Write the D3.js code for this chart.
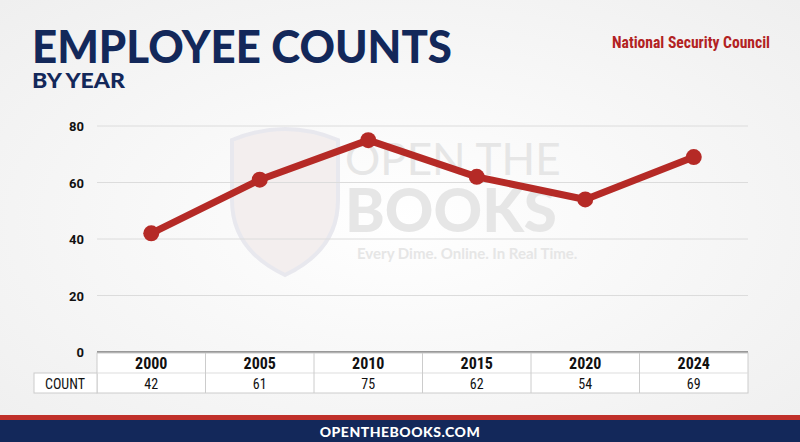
<!DOCTYPE html>
<html><head><meta charset="utf-8">
<script src="https://cdn.jsdelivr.net/npm/d3@7"></script>
<style>body{margin:0;background:#fff}svg{display:block}</style>
</head><body>
<script>
const years = ["2000", "2005", "2010", "2015", "2020", "2024"];
const counts = [42, 61, 75, 62, 54, 69];
const yTicks = [0, 20, 40, 60, 80];

const W = 800, H = 442;
const svg = d3.select("body").append("svg").attr("width", W).attr("height", H);

const bg = svg.append("defs").append("radialGradient").attr("id", "bg")
  .attr("cx", "50%").attr("cy", "50%").attr("r", "75%");
bg.append("stop").attr("offset", "0%").attr("stop-color", "#ffffff");
bg.append("stop").attr("offset", "100%").attr("stop-color", "#eeeeee");
svg.append("rect").attr("width", W).attr("height", H).attr("fill", "url(#bg)");

// watermark
const wm = svg.append("g").attr("fill", "#e6e6e6").attr("font-family", "Lato, sans-serif");
wm.append("text").attr("x", 345).attr("y", 175).attr("font-size", 44).text("OPEN THE");
wm.append("text").attr("x", 345).attr("y", 232).attr("font-size", 60).attr("font-weight", 900).text("BOOKS");
wm.append("text").attr("x", 357).attr("y", 259).attr("font-size", 15).attr("font-weight", 700).text("Every Dime. Online. In Real Time.");
svg.append("path").attr("d", "M232,140 Q285,118 338,140 L338,200 Q338,250 285,275 Q232,250 232,200 Z")
  .attr("fill", "#f3eeee").attr("stroke", "#e8e8ee").attr("stroke-width", 4);

// titles
svg.append("text").attr("x", 32).attr("y", 63).attr("fill", "#13285a")
  .attr("font-family", "Lato, sans-serif").attr("font-weight", 900).attr("font-size", 46)
  .attr("textLength", 420).attr("lengthAdjust", "spacingAndGlyphs").text("EMPLOYEE COUNTS");
svg.append("text").attr("x", 32).attr("y", 88).attr("fill", "#13285a")
  .attr("font-family", "Lato, sans-serif").attr("font-weight", 900).attr("font-size", 21)
  .attr("textLength", 93).attr("lengthAdjust", "spacingAndGlyphs").text("BY YEAR");
svg.append("text").attr("x", 770).attr("y", 48).attr("text-anchor", "end").attr("fill", "#b22222")
  .attr("font-family", "'Liberation Sans Narrow', 'Roboto Condensed', sans-serif").attr("font-weight", 700).attr("font-size", 16)
  .attr("textLength", 158).attr("lengthAdjust", "spacingAndGlyphs").text("National Security Council");

const x = d3.scaleBand().domain(years).range([97, 748]);
const y = d3.scaleLinear().domain([0, 80]).range([352, 126]);

// grid
svg.append("g").selectAll("line").data(yTicks).join("line")
  .attr("x1", 97).attr("x2", 748).attr("y1", d => y(d)).attr("y2", d => y(d))
  .attr("stroke", d => d === 0 ? "#999" : "#dcdcdc").attr("stroke-width", d => d === 0 ? 2 : 1);
svg.append("g").selectAll("text").data(yTicks).join("text")
  .attr("x", 84).attr("y", d => y(d) + 5).attr("text-anchor", "end")
  .attr("font-family", "Roboto, sans-serif").attr("font-weight", 700).attr("font-size", 13)
  .attr("fill", "#111").text(d => d);

// line
const pts = years.map((yr, i) => [x(yr) + x.bandwidth() / 2, y(counts[i])]);
svg.append("path").attr("d", d3.line()(pts)).attr("fill", "none")
  .attr("stroke", "#b52a26").attr("stroke-width", 7).attr("stroke-linejoin", "round");
svg.append("g").selectAll("circle").data(pts).join("circle")
  .attr("cx", d => d[0]).attr("cy", d => d[1]).attr("r", 8).attr("fill", "#b52a26");

// table
const t = svg.append("g").attr("font-family", "'Liberation Sans Narrow', 'Roboto Condensed', sans-serif").attr("fill", "#111");
t.append("rect").attr("x", 97).attr("y", 353).attr("width", 651).attr("height", 40).attr("fill", "#fff").attr("stroke", "#ccc");
t.append("rect").attr("x", 34).attr("y", 373).attr("width", 63).attr("height", 20).attr("fill", "#fff").attr("stroke", "#ccc");
t.append("line").attr("x1", 97).attr("x2", 748).attr("y1", 373).attr("y2", 373).attr("stroke", "#ddd");
t.selectAll(".sep").data(years.slice(1)).join("line")
  .attr("x1", d => x(d)).attr("x2", d => x(d)).attr("y1", 353).attr("y2", 393).attr("stroke", "#ccc");
t.selectAll(".yr").data(years).join("text")
  .attr("x", d => x(d) + x.bandwidth() / 2).attr("y", 369).attr("text-anchor", "middle")
  .attr("font-weight", 700).attr("font-size", 16).text(d => d);
t.selectAll(".ct").data(counts).join("text")
  .attr("x", (d, i) => x(years[i]) + x.bandwidth() / 2).attr("y", 389).attr("text-anchor", "middle")
  .attr("font-size", 14).text(d => d);
t.append("text").attr("x", 65).attr("y", 389).attr("text-anchor", "middle").attr("font-size", 14).text("COUNT");

// footer
svg.append("rect").attr("x", 0).attr("y", 415).attr("width", W).attr("height", 5).attr("fill", "#c0302a");
svg.append("rect").attr("x", 0).attr("y", 420).attr("width", W).attr("height", 22).attr("fill", "#13285a");
svg.append("text").attr("x", W / 2).attr("y", 437).attr("text-anchor", "middle").attr("fill", "#fff")
  .attr("font-family", "Lato, sans-serif").attr("font-weight", 900).attr("font-size", 14)
  .attr("letter-spacing", 0.5).text("OPENTHEBOOKS.COM");
</script>
</body></html>
